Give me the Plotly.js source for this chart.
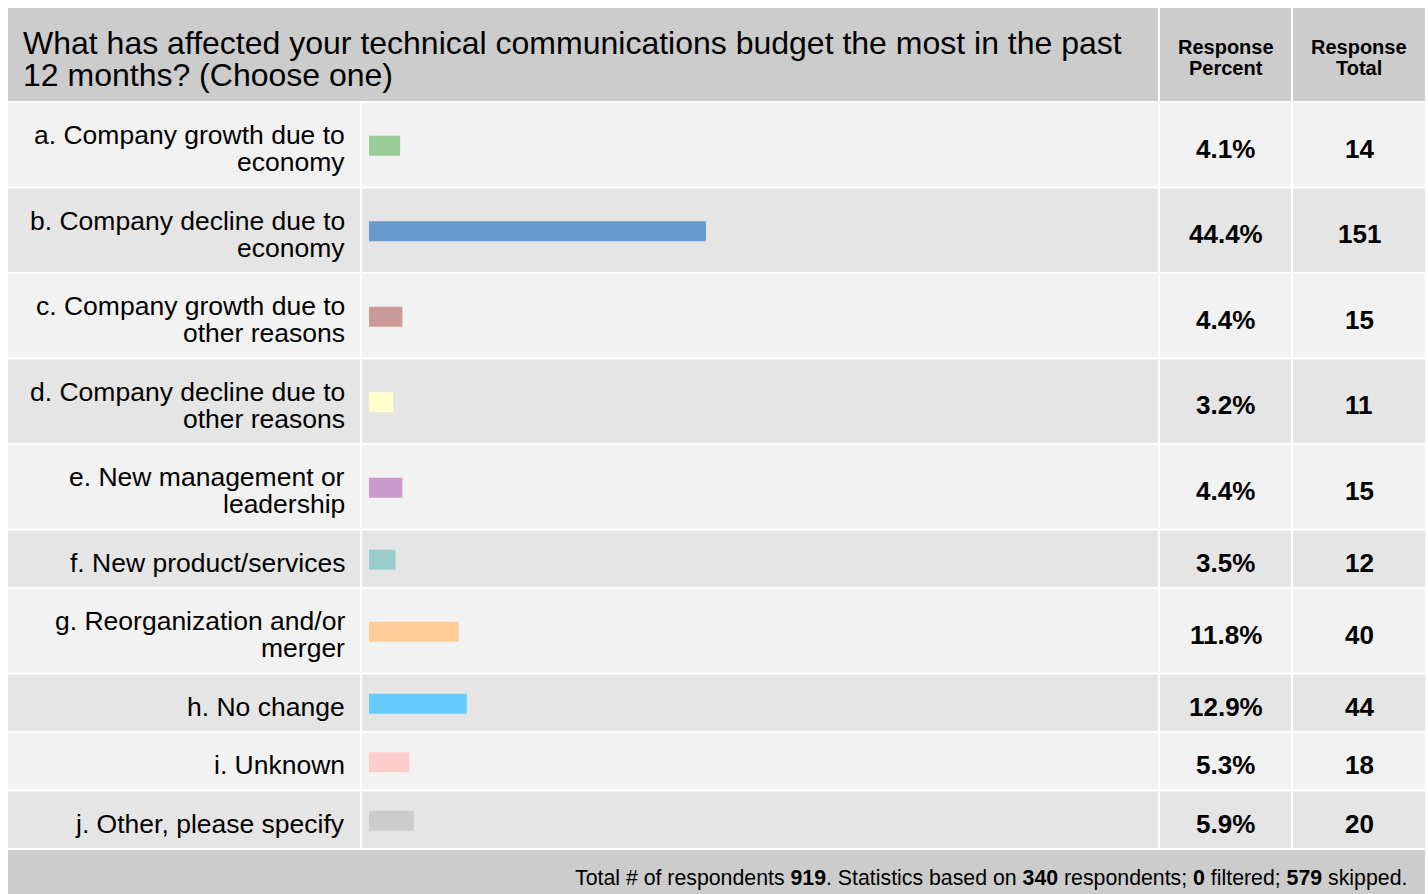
<!DOCTYPE html>
<html>
<head>
<meta charset="utf-8">
<script src="https://cdn.plot.ly/plotly-3.0.1.min.js"></script>
<style>
  html, body { margin: 0; padding: 0; background: #ffffff; }
  #chart { width: 1428px; height: 894px; }
</style>
</head>
<body>
<div id="chart"></div>
<script>
// ---------- data ----------
const questionLines = ["What has affected your technical communications budget the most in the past", "12 months? (Choose one)"];
const headerPercent = ["Response", "Percent"];
const headerTotal = ["Response", "Total"];
const categories = [
  "a. Company growth due to<br>economy",
  "b. Company decline due to<br>economy",
  "c. Company growth due to<br>other reasons",
  "d. Company decline due to<br>other reasons",
  "e. New management or<br>leadership",
  "f. New product/services",
  "g. Reorganization and/or<br>merger",
  "h. No change",
  "i. Unknown",
  "j. Other, please specify"
];
const percents = [4.1, 44.4, 4.4, 3.2, 4.4, 3.5, 11.8, 12.9, 5.3, 5.9];
const totals = [14, 151, 15, 11, 15, 12, 40, 44, 18, 20];
const barColors = ["#99cc99", "#6699cc", "#cc9999", "#ffffcc", "#cc99cc", "#99cccc", "#ffcc99", "#66ccff", "#ffcccc", "#cccccc"];
const totalRespondents = 919;
const basedOn = 340;
const filtered = 0;
const skipped = 579;

// ---------- layout constants (pixels) ----------
const W = 1428, H = 894;
const FONT = "Liberation Sans, Arial, sans-serif";
const tableL = 8, tableR = 1425;
const labelR = 360, barL = 362, barR = 1158, pctL = 1160, pctR = 1291, totL = 1293;
const headerTop = 8, headerBot = 101;
const firstRowTop = 103, gap = 2, h2 = 83.5, h1 = 56.5;
const barStartPx = 369, barEndPx = 1128; // 0..100 %
const rowBgA = "#f2f2f2", rowBgB = "#e5e5e5", headBg = "#cccccc";

const px = x => x / W;

// row geometry
const rows = [];
let cursorY = firstRowTop;
categories.forEach((c, i) => {
  const lines = c.split("<br>");
  const h = lines.length > 1 ? h2 : h1;
  rows.push({ top: cursorY, bot: cursorY + h, mid: cursorY + h / 2, lines: lines });
  cursorY += h + gap;
});
const footerTop = cursorY;

const shapes = [];
const annotations = [];
function rect(x0, x1, y0, y1, color) {
  shapes.push({ type: "rect", xref: "paper", yref: "y", x0: px(x0), x1: px(x1), y0: y0, y1: y1,
    fillcolor: color, line: { width: 0 }, layer: "below" });
}
function text(t, x, y, size, anchor, opts) {
  annotations.push(Object.assign({ xref: "paper", yref: "y", x: px(x), y: y, text: t, showarrow: false,
    xanchor: anchor, yanchor: "middle", font: { family: FONT, size: size, color: "#000000" } }, opts || {}));
}

// header
rect(tableL, barR, headerTop, headerBot, headBg);
rect(pctL, pctR, headerTop, headerBot, headBg);
rect(totL, tableR, headerTop, headerBot, headBg);
text(questionLines[0], 21, 43, 32, "left");
text(questionLines[1], 21, 75, 32, "left");
text("<b>" + headerPercent[0] + "</b>", (pctL + pctR) / 2, 47, 20, "center");
text("<b>" + headerPercent[1] + "</b>", (pctL + pctR) / 2, 68, 20, "center");
text("<b>" + headerTotal[0] + "</b>", (totL + tableR) / 2, 47, 20, "center");
text("<b>" + headerTotal[1] + "</b>", (totL + tableR) / 2, 68, 20, "center");

// rows
rows.forEach((r, i) => {
  const bg = i % 2 === 0 ? rowBgA : rowBgB;
  rect(tableL, labelR, r.top, r.bot, bg);
  rect(barL, barR, r.top, r.bot, bg);
  rect(pctL, pctR, r.top, r.bot, bg);
  rect(totL, tableR, r.top, r.bot, bg);
  const c = r.mid + 4;
  if (r.lines.length > 1) {
    text(r.lines[0], 347, c - 13.5, 26.5, "right");
    text(r.lines[1], 347, c + 13.5, 26.5, "right");
  } else {
    text(r.lines[0], 347, c, 26.5, "right");
  }
  text("<b>" + percents[i].toFixed(1) + "%</b>", (pctL + pctR) / 2, c, 26, "center");
  text("<b>" + totals[i] + "</b>", (totL + tableR) / 2, c, 26, "center");
});

// footer
rect(tableL, tableR, footerTop, H + 10, headBg);
text("Total # of respondents <b>" + totalRespondents + "</b>. Statistics based on <b>" + basedOn +
  "</b> respondents; <b>" + filtered + "</b> filtered; <b>" + skipped + "</b> skipped.",
  1409, 878, 21.3, "right");

// bars
const trace = {
  type: "bar",
  orientation: "h",
  x: percents,
  y: rows.map(r => r.mid + 1),
  width: 20,
  marker: { color: barColors, line: { width: 0 } },
  hoverinfo: "skip"
};

const layout = {
  width: W, height: H,
  margin: { l: 0, r: 0, t: 0, b: 0, pad: 0 },
  paper_bgcolor: "#ffffff",
  plot_bgcolor: "rgba(0,0,0,0)",
  showlegend: false,
  xaxis: { domain: [px(barStartPx), px(barEndPx)], range: [0, 100], visible: false, fixedrange: true },
  yaxis: { domain: [0, 1], range: [H, 0], visible: false, fixedrange: true },
  shapes: shapes,
  annotations: annotations
};

Plotly.newPlot("chart", [trace], layout, { displayModeBar: false, staticPlot: true });
</script>
</body>
</html>
